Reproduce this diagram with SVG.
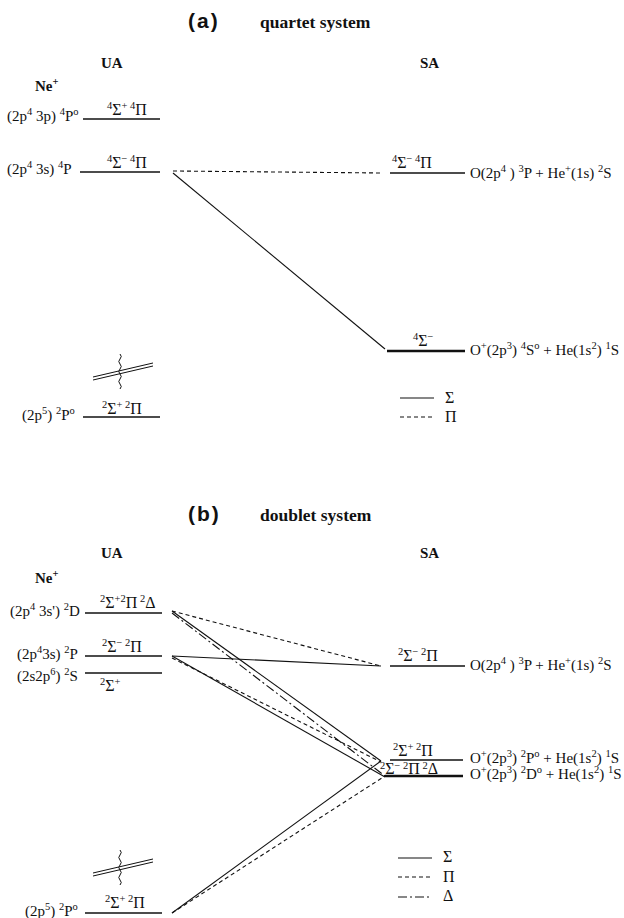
<svg xmlns="http://www.w3.org/2000/svg" width="624" height="918" viewBox="0 0 624 918">
<style>
.t{font-family:"Liberation Serif","DejaVu Serif",serif;font-size:15px;fill:#111}
.s{font-size:10.5px}
.g{font-size:16px}
.b{font-weight:bold}
.h{font-family:"Liberation Sans","DejaVu Sans",sans-serif;font-weight:bold;font-size:21px;letter-spacing:2px;fill:#111}
.ttl{font-family:"Liberation Serif","DejaVu Serif",serif;font-weight:bold;font-size:17.5px;fill:#111}
.lv{stroke:#111;stroke-width:1.6;fill:none}
.lvt{stroke:#111;stroke-width:2.6;fill:none}
.c{stroke:#111;stroke-width:1.1;fill:none}
.d{stroke-dasharray:4 3}
.dd{stroke-dasharray:9 3 2 3}
.w{stroke:#111;stroke-width:1;fill:none}
</style>
<rect width="624" height="918" fill="#fff"/>

<!-- ===== (a) quartet ===== -->
<g id="title-a">
<text x="188" y="28" class="h">(a)</text>
<text x="260" y="28" class="ttl">quartet system</text>
</g>
<g id="heads-a">
<text x="101" y="68" class="t b">UA</text>
<text x="420" y="68" class="t b">SA</text>
<text x="35" y="91" class="t b">Ne<tspan class="s" dy="-6">+</tspan></text>
</g>

<g id="a-ua-4Po">
<line x1="83" y1="119" x2="160" y2="119" class="lv"/>
<text x="7" y="121" class="t">(2p<tspan class="s" dy="-6">4</tspan><tspan dy="6"> 3p) </tspan><tspan class="s" dy="-6">4</tspan><tspan dy="6">P</tspan><tspan class="s" dy="-6">o</tspan></text>
<text x="107" y="115" class="t"><tspan class="s" dy="-6">4</tspan><tspan class="g" dy="6">Σ</tspan><tspan class="s" dy="-6">+ 4</tspan><tspan class="g" dy="6">Π</tspan></text>
</g>
<g id="a-ua-4P">
<line x1="80" y1="172" x2="160" y2="172" class="lv"/>
<text x="7" y="174" class="t">(2p<tspan class="s" dy="-6">4</tspan><tspan dy="6"> 3s) </tspan><tspan class="s" dy="-6">4</tspan><tspan dy="6">P</tspan></text>
<text x="107" y="168" class="t"><tspan class="s" dy="-6">4</tspan><tspan class="g" dy="6">Σ</tspan><tspan class="s" dy="-6">−  4</tspan><tspan class="g" dy="6">Π</tspan></text>
</g>
<g id="a-ua-2Po">
<line x1="83" y1="417" x2="160" y2="417" class="lv"/>
<text x="22" y="420" class="t">(2p<tspan class="s" dy="-6">5</tspan><tspan dy="6">) </tspan><tspan class="s" dy="-6">2</tspan><tspan dy="6">P</tspan><tspan class="s" dy="-6">o</tspan></text>
<text x="102" y="414" class="t"><tspan class="s" dy="-6">2</tspan><tspan class="g" dy="6">Σ</tspan><tspan class="s" dy="-6">+    2</tspan><tspan class="g" dy="6">Π</tspan></text>
</g>
<g id="a-break">
<line x1="93" y1="377" x2="153" y2="363" class="w"/>
<line x1="93" y1="380" x2="153" y2="366" class="w"/>
<path d="M120,354 q2.5,2.5 0,5 q-2.5,2.5 0,5 q2.5,2.5 0,5 q-2.5,2.5 0,5 q2.5,2.5 0,5 q-2.5,2.5 0,5 q2.5,2.5 0,5" class="w"/>
</g>

<g id="a-sa-3P">
<line x1="390" y1="173" x2="465" y2="173" class="lv"/>
<text x="392" y="168" class="t"><tspan class="s" dy="-6">4</tspan><tspan class="g" dy="6">Σ</tspan><tspan class="s" dy="-6">−  4</tspan><tspan class="g" dy="6">Π</tspan></text>
<text x="470" y="178" class="t">O(2p<tspan class="s" dy="-6">4</tspan><tspan dy="6"> ) </tspan><tspan class="s" dy="-6">3</tspan><tspan dy="6">P + He</tspan><tspan class="s" dy="-6">+</tspan><tspan dy="6">(1s) </tspan><tspan class="s" dy="-6">2</tspan><tspan dy="6">S</tspan></text>
</g>
<g id="a-sa-4So">
<line x1="387" y1="351" x2="465" y2="351" class="lvt"/>
<text x="413" y="346" class="t"><tspan class="s" dy="-6">4</tspan><tspan class="g" dy="6">Σ</tspan><tspan class="s" dy="-6">−</tspan></text>
<text x="470" y="355" class="t">O<tspan class="s" dy="-6">+</tspan><tspan dy="6">(2p</tspan><tspan class="s" dy="-6">3</tspan><tspan dy="6">) </tspan><tspan class="s" dy="-6">4</tspan><tspan dy="6">S</tspan><tspan class="s" dy="-6">o</tspan><tspan dy="6"> + He(1s</tspan><tspan class="s" dy="-6">2</tspan><tspan dy="6">) </tspan><tspan class="s" dy="-6">1</tspan><tspan dy="6">S</tspan></text>
</g>
<g id="a-legend">
<line x1="400" y1="398" x2="434" y2="398" class="c"/>
<text x="445" y="403" class="t g">Σ</text>
<line x1="400" y1="417" x2="434" y2="417" class="c d"/>
<text x="445" y="422" class="t g">Π</text>
</g>

<g id="a-connectors">
<line x1="173" y1="171" x2="383" y2="173" class="c d"/>
<line x1="173" y1="173" x2="385" y2="349" class="c"/>
</g>

<!-- ===== (b) doublet ===== -->
<g id="title-b">
<text x="188" y="521" class="h">(b)</text>
<text x="260" y="521" class="ttl">doublet system</text>
</g>
<g id="heads-b">
<text x="101" y="558" class="t b">UA</text>
<text x="420" y="558" class="t b">SA</text>
<text x="35" y="583" class="t b">Ne<tspan class="s" dy="-6">+</tspan></text>
</g>

<g id="b-ua-2D">
<line x1="85" y1="613" x2="162" y2="613" class="lv"/>
<text x="10" y="616" class="t">(2p<tspan class="s" dy="-6">4</tspan><tspan dy="6"> 3s') </tspan><tspan class="s" dy="-6">2</tspan><tspan dy="6">D</tspan></text>
<text x="100" y="608" class="t"><tspan class="s" dy="-6">2</tspan><tspan class="g" dy="6">Σ</tspan><tspan class="s" dy="-6">+2</tspan><tspan class="g" dy="6">Π</tspan><tspan class="s" dy="-6"> 2</tspan><tspan class="g" dy="6">Δ</tspan></text>
</g>
<g id="b-ua-2P">
<line x1="85" y1="656" x2="162" y2="656" class="lv"/>
<text x="17" y="659" class="t">(2p<tspan class="s" dy="-6">4</tspan><tspan dy="6">3s) </tspan><tspan class="s" dy="-6">2</tspan><tspan dy="6">P</tspan></text>
<text x="102" y="652" class="t"><tspan class="s" dy="-6">2</tspan><tspan class="g" dy="6">Σ</tspan><tspan class="s" dy="-6">− 2</tspan><tspan class="g" dy="6">Π</tspan></text>
</g>
<g id="b-ua-2S">
<line x1="85" y1="673" x2="162" y2="673" class="lv"/>
<text x="17" y="681" class="t">(2s2p<tspan class="s" dy="-6">6</tspan><tspan dy="6">) </tspan><tspan class="s" dy="-6">2</tspan><tspan dy="6">S</tspan></text>
<text x="100" y="691" class="t"><tspan class="s" dy="-6">2</tspan><tspan class="g" dy="6">Σ</tspan><tspan class="s" dy="-6">+</tspan></text>
</g>
<g id="b-ua-2Po">
<line x1="85" y1="913" x2="162" y2="913" class="lv"/>
<text x="25" y="916" class="t">(2p<tspan class="s" dy="-6">5</tspan><tspan dy="6">) </tspan><tspan class="s" dy="-6">2</tspan><tspan dy="6">P</tspan><tspan class="s" dy="-6">o</tspan></text>
<text x="105" y="908" class="t"><tspan class="s" dy="-6">2</tspan><tspan class="g" dy="6">Σ</tspan><tspan class="s" dy="-6">+    2</tspan><tspan class="g" dy="6">Π</tspan></text>
</g>
<g id="b-break">
<line x1="93" y1="873" x2="153" y2="859" class="w"/>
<line x1="93" y1="876" x2="153" y2="862" class="w"/>
<path d="M120,850 q2.5,2.5 0,5 q-2.5,2.5 0,5 q2.5,2.5 0,5 q-2.5,2.5 0,5 q2.5,2.5 0,5 q-2.5,2.5 0,5 q2.5,2.5 0,5" class="w"/>
</g>

<g id="b-sa-3P">
<line x1="390" y1="666" x2="465" y2="666" class="lv"/>
<text x="398" y="661" class="t"><tspan class="s" dy="-6">2</tspan><tspan class="g" dy="6">Σ</tspan><tspan class="s" dy="-6">− 2</tspan><tspan class="g" dy="6">Π</tspan></text>
<text x="470" y="670" class="t">O(2p<tspan class="s" dy="-6">4</tspan><tspan dy="6"> ) </tspan><tspan class="s" dy="-6">3</tspan><tspan dy="6">P + He</tspan><tspan class="s" dy="-6">+</tspan><tspan dy="6">(1s) </tspan><tspan class="s" dy="-6">2</tspan><tspan dy="6">S</tspan></text>
</g>
<g id="b-sa-2Po">
<line x1="390" y1="760" x2="463" y2="760" class="lv"/>
<text x="393" y="756" class="t"><tspan class="s" dy="-6">2</tspan><tspan class="g" dy="6">Σ</tspan><tspan class="s" dy="-6">+  2</tspan><tspan class="g" dy="6">Π</tspan></text>
<text x="470" y="763" class="t">O<tspan class="s" dy="-6">+</tspan><tspan dy="6">(2p</tspan><tspan class="s" dy="-6">3</tspan><tspan dy="6">) </tspan><tspan class="s" dy="-6">2</tspan><tspan dy="6">P</tspan><tspan class="s" dy="-6">o</tspan><tspan dy="6"> + He(1s</tspan><tspan class="s" dy="-6">2</tspan><tspan dy="6">) </tspan><tspan class="s" dy="-6">1</tspan><tspan dy="6">S</tspan></text>
</g>
<g id="b-sa-2Do">
<line x1="385" y1="776" x2="463" y2="776" class="lvt"/>
<text x="380" y="774" class="t"><tspan class="s" dy="-5">2</tspan><tspan class="g" dy="5">Σ</tspan><tspan class="s" dy="-5">− 2</tspan><tspan class="g" dy="5">Π</tspan><tspan class="s" dy="-5"> 2</tspan><tspan class="g" dy="5">Δ</tspan></text>
<text x="470" y="779" class="t">O<tspan class="s" dy="-6">+</tspan><tspan dy="6">(2p</tspan><tspan class="s" dy="-6">3</tspan><tspan dy="6">) </tspan><tspan class="s" dy="-6">2</tspan><tspan dy="6">D</tspan><tspan class="s" dy="-6">o</tspan><tspan dy="6"> + He(1s</tspan><tspan class="s" dy="-6">2</tspan><tspan dy="6">) </tspan><tspan class="s" dy="-6">1</tspan><tspan dy="6">S</tspan></text>
</g>
<g id="b-legend">
<line x1="398" y1="858" x2="432" y2="858" class="c"/>
<text x="443" y="862" class="t g">Σ</text>
<line x1="398" y1="877" x2="432" y2="877" class="c d"/>
<text x="443" y="882" class="t g">Π</text>
<line x1="398" y1="897" x2="432" y2="897" class="c dd"/>
<text x="443" y="901" class="t g">Δ</text>
</g>

<g id="b-connectors">
<line x1="172" y1="611" x2="381" y2="666" class="c d"/>
<line x1="172" y1="656" x2="381" y2="666" class="c"/>
<line x1="172" y1="611" x2="381" y2="761" class="c"/>
<line x1="172" y1="613" x2="385" y2="776" class="c dd"/>
<line x1="172" y1="656" x2="385" y2="777" class="c"/>
<line x1="172" y1="658" x2="381" y2="762" class="c d"/>
<line x1="172" y1="913" x2="381" y2="761" class="c"/>
<line x1="172" y1="913" x2="385" y2="776" class="c d"/>
</g>
</svg>
